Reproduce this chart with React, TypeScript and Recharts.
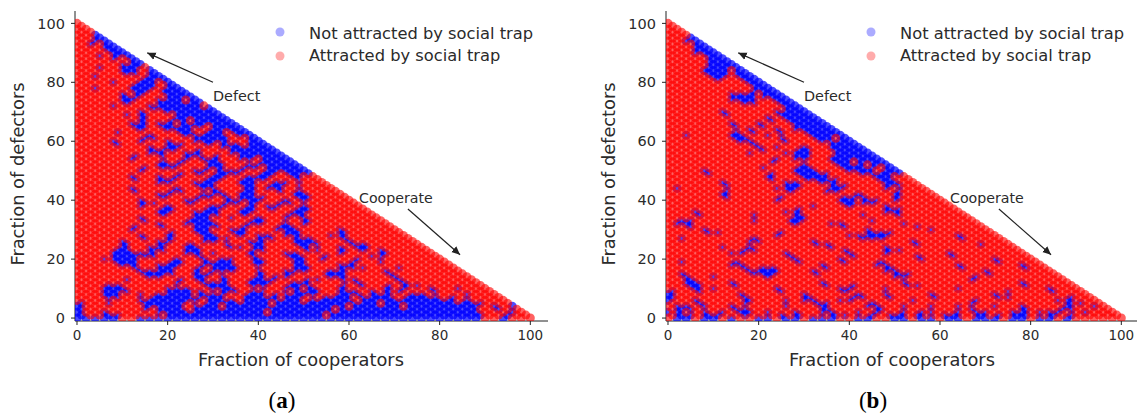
import { ScatterChart, Scatter, XAxis, YAxis, ZAxis, ReferenceLine } from 'recharts'

// One row per level of defectors (100 down to 0). Letters step by 2 cooperators, starting
// at 0 on even rows and 1 on odd rows: b = not attracted, r = attracted. Grouped by five.
const rowsA = [
  'r', 'r', 'rr', 'rr', 'rrb', 'rrb', 'rrbb', 'rbrb', 'rrrbb', 'rrrbb',
  'rrrrb b', 'rrbrb b', 'rrrrb rb', 'rrrrr rb', 'rrrrr bbb', 'rrbrr bbr', 'rrrrr bbrb', 'rrrrr bbrb',
  'rrbrr rrrbb', 'rrrrr rrbbb',
  'rrrrb rrbbr b', 'rrrrr rbbbr b',
  'rrbrr rbbbr bb', 'rrrrr rbbrb bb',
  'rrrrr brbrr bbb', 'rrrrr bbrrr bbb',
  'rrrrr bbrrb bbrb', 'rrrrr brrrb bbbb',
  'rrrrb rrrbb bbbbr', 'rrrrr rrrbb bbbbb',
  'rrrrr rrbrr bbbbb b', 'rrrrr brbrr rbbbb b',
  'rrrrr rrbrr rbbbb bb', 'rrrrr rrbrr bbrbb bb',
  'rrrrr rbbrb brbbb bbb', 'rrrrr rbbrb bbbbr bbb',
  'rrrrr rrbrr bbbrr bbbb', 'rrrrb rrrrr rbbrb brbb',
  'rrrrr rrrbr rrbbb bbrbb', 'rrrrr rrbbr rrrbb bbrrb',
  'rrrrb rrbrr brrbb bbrrb b', 'rrrrb rrrrr bbrrb rbbrb b',
  'rrrrr rrrbr bbrrr rbbbb bb', 'rrrrr rrrbb brrbr rrbbb bb',
  'rrrrr rrrbb rrbbr rrbbb bbb', 'rrrrr rbrrb rrbbr brrbb bbb',
  'rrrrr rbrrr rrbrb brrbb rbbb', 'rrrrr rrrrb rbrrb brrrr bbbb',
  'rrrrr rrrrb bbrrr bbrrb bbbbb', 'rrrrr rrbrb brrrb brrbb rbbbb',
  'rrrrr rrbrr rrrbb rbbbr rbbbb b', 'rrrrr rrrrr rbrbr bbbrr bbrbb b',
  'rrrrr rbrrb rbrrr bbrrb bbrrb rr', 'rrrrr rbrrb brrrb brrbb brrrb rr',
  'rrrrr rrrrb brrbb brrbb rrbbr rrr', 'rrrrr rrrrr rrrbb rrrbb rbbrb rrr',
  'rrrrr rbrrr rbrrb brrrb rbbrr rrrr', 'rrrrr rbrrr bbrrr brrbb rrbrb rrrr',
  'rrrrr rrrrb brrrb bbrbb rrrrb brrrr', 'rrrrr rrrrb rrrbb rbrbb brrrb brrrr',
  'rrrrr rrbrr rrbbr rrbbb brrbr brrrr r', 'rrrrr rrbbr rrbrr rbbrb rrbbr rrrrr r',
  'rrrrr rrbrr brrrr bbrrb rbbrr brrrr rr', 'rrrrr rrrrb brrrb brrbb rbrrb brrrr rr',
  'rrrrr rrrrb brrbb brrbb rrrrb brrrr rrr', 'rrrrr rrrrb rrrbb brrbr rrrbb rrrrr rrr',
  'rrrrr rrbrr rrrbb rrbrr brrbr brrrr rrrr', 'rrrrr rrbrr rrbbb rrrrb brrrr brrrr rrrr',
  'rrrrr rrrrb rrbbb brrrb brrbr brrrr rrrrr', 'rrrrr rbrrb rrrbb brrbr rrbbr rrrrr rrrrr',
  'rrrrr rbrrr rrrbb rrbbr rrbbb rrrrb rrrrr r', 'rrrrr rrrrr brrbb rrbbr rrrbb rrrrb rrrrr r',
  'rrrrr rrbrr brrrb brrbr bbrbb rrrbb rrrrr rr', 'rrrrr rrbrr brrrb bbrrr bbrrb brrrb rrrrr rr',
  'rrrrr brrrb brrrb brrrb brrrb bbrrr brrrr rrr', 'rrrrr brrrb rrbrr rbrrb brrrb bbrrr bbrrr rrr',
  'rrrrr brrbb rrbbr rrbbr brrrr brrrb rbbrr rrrr', 'rrrrb brrbb rrbbr rrrrb brrrr bbrrb rbrbr rrrr',
  'rrrrb bbbbr rrbbr brrrb rrrbb rrrrb rrrrb rrrrr', 'rrrrb bbbbr rrrbr rrrrb rrrbb rrbrr rrbbr rrrrr',
  'rrrbb bbrrr rbrrb rbbrr brrrb brbrr rbrrr rrrrr r', 'rrrrb bbrrr bbrrb bbrrb brrrb rrrrr brrbr rrrrr r',
  'rrrrr bbrrb bbrrb bbbrr brrrb brrrb brrrr rrrrr rr', 'rrrrr rbrrb brrbr bbbrr rrrrb brrrb bbrrr brrrr rr',
  'rrrrr rrbbb brrbr bbbrr brrbb brrbb rrrrb rrrrr rrr', 'rrrrr rrbbb brrbb rrrrr brrbr rrbbb rrrrb rrrrr rrr',
  'rrrrr rrrbb rrrbb rbrrr brbbr rrrbb rrrrr brrrr rrrr', 'rrrrr brrrr rbrbr rbrrb bbrrr bbrrb brrrr brrrr rrrr',
  'rrrrr rrrrr rbrrb bbrrb bbrrb brrrr rbrrr rbrrr rrrrr', 'rrrbb rrrrr rrrrb bbrrb brrbb brrrb rbrrb rbbrr rrrrr',
  'rrrbb brrrr bbbrr bbbrr rrrbb rbrrb rrrrb rbrrb rrbrr r', 'rrrbb brrrr bbbbr rbbrb brrrb bbrrb brbrb brrrb rrrrr r',
  'rrrbb rrbrb bbbrb bbrrb brbbb bbrrb bbrbb rrbbr rrrbr rr', 'rrrbb rrrbb bbbbb brrbb bbrbb rrbbb rbbbb rbbbb rbrrr rr',
  'rrrrr rrbbb bbbbr bbbrb bbbbb rbbbb brbbb bbbbb bbrbr rrr', 'brrbr rrbbb bbrrb bbbbb brbbb bbbbb bbbrb bbbbb bbbbb rrr',
  'brrrr rrrbb bbrbb brbbb bbbbb bbbbb rbbbb brbbb bbbbb rbrb', 'brrrr rrbrb bbrbb bbbbb bbbbb bbbrb bbbbb bbbbb bbbbr rbrr',
  'brrbr rrrrb bbbbb bbbbb brbbb bbbbb bbbbb bbbbb bbbbb rrrbr', 'brrbb rrrrr bbbbb bbbbb bbbbb bbrbb bbbbb bbbbb bbbbb rrbrr',
  'bbbbb rrbbb bbbbb bbbbb bbbbb bbbbb bbbbb bbbbb bbbbb rrbrr r',
]

const rowsB = [
  'r', 'r', 'rr', 'rr', 'rrr', 'rrb', 'rrbb', 'rrrb', 'rrrbb', 'rrrbb',
  'rrrbb b', 'rrrrb b', 'rrrrr bb', 'rrrrb bb', 'rrrrr bbb', 'rrrrb bbb', 'rrrrb bbrb', 'rrrrb bbbb',
  'rrrrr bbrbb', 'rrrrr brrbb',
  'rrrrr rrrrb b', 'rrrrr rrrrb b',
  'rrrrr rrrrr bb', 'rrrrr rrrrb bb',
  'rrrrr rrbbb rbb', 'rrrrr rrbbb bbb',
  'rrrrr rrbbb rrbb', 'rrrrr rrrbb rrbb',
  'rrrrr rrrrr rrrbb', 'rrrrr rrrrr rrrbb',
  'rrrrr rbrrr rrbbb b', 'rrrrr rbrrr rrbbb b',
  'rrrrr rrrrr rbrbb bb', 'rrrrr rrrrr rbrbb bb',
  'rrrrr rrbrr brrrb bbb', 'rrrrr rrbrr brrrb bbb',
  'rrrrr rrrrb rrbrb bbbb', 'rrrrr rrbrb rrbrr bbbb',
  'rrbrr rrbbr rbrrr rbbbb', 'rrrrr rrbbr rrbrr rbbrb',
  'rrrrr rrrbb rrrbr rrbbb b', 'rrrrr rrrrb rrrrr rrrbb b',
  'rrrrr rrrrr brbrr brrbb bb', 'rrrrr rrrrr brrrb brrbb bb',
  'rrrrr rrrrb rrrbb brrrb bbb', 'rrrrr rrrrr rrrrb brrbb bbb',
  'rrrrr rrrrr rrbrb brrbb bbbb', 'rrrrr rrrrr rbrrr rrrbb rbbb',
  'rrrrr rrrrr rrrrr brrrb bbrbb', 'rrrrr rrrrr brrrb brrrb bbbrb',
  'rrrrb rrrrr rrrrb bbrrr bbbrb b', 'rrrrb rrrrr rbrrb bbbrr rbbbb b',
  'rrrrr rrrrr rbrrr bbbrr rrrbb rr', 'rrrrr rrrrr rbrrr bbbbr rrrbb rr',
  'rrrrr rbrrr rrrbb rrbbr rrrrb brr', 'rrrrr rbrrr rrrbb rrrbb rrrrb brr',
  'rbrrr rrrrr rrbbb rrrbb rrrrb rrrr', 'rrrrr rbrrr rrrbr rrbbr rrrrr brrr',
  'rrrrr rbrrr rrrrr rrrrr rbrrr brrrr', 'rrrrr rbrrr rrbrr rrrrb bbrrr brrrr',
  'rrrrr rrrrr rrbrr rrrrb brbbr brrrr r', 'rrrrr rrrrr rrrrr rrrrb bbbrr rrrrr r',
  'rrrrr rrrrr rrrrr rbrrr brrrb rrrrr rr', 'rrrrr rrrrr rrrrb rrrrr rrrrb brrrr rr',
  'rrrbr rrrrr rrrbb rrrrr rrrrb brrrr rrr', 'rrrbr rrrrb rrrrb rrrrr rbrrr brrrr rrr',
  'rrrrr rrrrr rrrrb brrrr rrrrr rrrrr rrrr', 'rbbrr rrrrb rrrbb rrrrr rrbrr rrrrr rrrr',
  'rbbrr rrrrr rrrrb rrrbb rrrrr rbrrr rrrrr', 'rrbrr rrrrr rrrrr rrrrb rrrrr rrbrr rrrrr',
  'rrrrb rrrrr rrrrr rrrrr rrbrr rrrrb rrrrr r', 'rrrrb brrrr rrbrr rrrrr rrbbb rrrrr rrrrr r',
  'rrrrr rrrrr rrbrr rrrrr bbbbb rrrrr rrbrr rr', 'rbrrr rrrrb rrrrr rrrrr rbbbr rrrrr rrbrr rr',
  'rrrrr rrrrb brrrr rbrrr rrrrr rrbrr rrrrr rrr', 'rrrrr rrrrr rrrrr rbbrr rrrrr rrbrr rrrrb rrr',
  'rrrrr rbrrb rrrrr rrrbr rrrrb rrrrr rrrrr rrrr', 'rrrrr rrrbb rrrrr rrrrb rrrrb brrrr rrrrr rrrr',
  'rrrrr rrbbr rrrbr rrrrr brrrb rrrrr rbrrr rrrrr', 'rrrrr rrrrr rrrbr rrrrr brrrr rrbrr rbrrr rrrrr',
  'rrrrr rrrrr rrrrb rrrrb rrrrr rrrbr rrrrr rbrrr r', 'rbrrr rrbrr rrrrb rrrrb rrrbr rrrrr rrrrr rbrrr r',
  'rrrrr rrbbr rrrrr rrbrr rrrbb rrrrr rrbrr rrrrb rr', 'rrrrr rrrbr bbrrr rrbrr rrrrb rrrrr rrbrr rrrrb rr',
  'rrrrr rrrrb bbbrr rbrrr rrrrb brrrr rrrrr brrrr rrr', 'rbrrr rrrrb bbrrr rbrrr rrrrr bbrrr rrrrr brrrr rrr',
  'rrbrr brrrr rbrrr rrrrr rrrrr bbrrr rrrrb rrrrr rrrr', 'rrbrr rrrrr rrrrr rrrrr rrrrr rrrrr rrrbr rrrrr rrrr',
  'rrbbr rrbrr rrrrr rrbrr rrrrr rbrrr rrrrr rrrrb rrrrr', 'rrbbr rrbrr rrrrr rrbrr brrrr rbbrr rrrrr rrrrb rrrrr',
  'rrrbr brrrr rrbrr rrrrb brrrb rrrrr rrbrr rrrrr rrbrr r', 'brrbr rrrrr rrbrr rrrrb rrrrr rrrrr rrrrr rrbrr rrbrr r',
  'brrrr rrrbr rrrrr brrrr rbrrb rrrrb rrrrr rbrrr rrrrr rr', 'brrrr rrrbr rrrrr brrrr bbrrb rrrrb rrrrr rbbrr rrrrb rr',
  'brrbr rrrrb rrrbr bbrrb brrrr rrbrr rrrrb rrrrr rrrbb rrr', 'rrrbr rrrbr rrrrr rbbrr rrbrr rrrrr rrrbr rrrrr rrrrb brr',
  'rbbrb rrbrr rrrbr rrbrr rrbbr rbrrb rrbrr rbrrb rrrrb rrbr', 'rbbrr rrbbr rrrrr rrbrr rrrbr rrrrr rrrbr rrrrb rrrbb rrrr',
  'bbrrb rbrbb rbrrb rrbbr rbrbr rbrbb rrbrb brrbb rbbbr rbrrr', 'rbbrb brrbr rrbrb rrrbb rrbrb brbrr bbrrb rbrbb rrbrb rrrrr',
  'rbbrb brbrr bbrbb rbbbr rbbrr bbrbb rbbrb bbrbb rbbrb rrrrr r',
]

const xTicks = [0, 20, 40, 60, 80, 100]
const yTicks = [0, 20, 40, 60, 80, 100]
const defectArrow = [{ x: 30, y: 80 }, { x: 15.5, y: 90 }]
const cooperateArrow = [{ x: 73, y: 37 }, { x: 84.5, y: 21.5 }]

const SERIF = '"Liberation Serif", serif'
const SANS = '"DejaVu Sans", sans-serif'
const TEXT = '#2b2b2b'

function toPoints(rows: string[], mark: string) {
  const out: { c: number; d: number }[] = []
  rows.forEach((row, i) => {
    const d = 100 - i
    row.replace(/ /g, '').split('').forEach((ch, j) => {
      const c = j * 2 + (d % 2)
      if (ch === mark && c + d <= 100) out.push({ c, d })
    })
  })
  return out
}

function Panel({ rows, caption, left }: { rows: string[]; caption: string; left: number }) {
  return (
    <div style={{ position: 'absolute', left, top: 0 }}>
      <ScatterChart
        width={560}
        height={414}
        margin={{ top: 11, right: 12, bottom: 63, left: 35 }}
      >
        <defs>
          <marker id={`head-${caption}`} markerWidth="8" markerHeight="8" refX="7" refY="4" orient="auto">
            <path d="M0,0.8 L7,4 L0,7.2 z" fill="#222" />
          </marker>
        </defs>
        <XAxis
          type="number"
          dataKey="c"
          domain={[-0.44, 103.9]}
          allowDataOverflow
          ticks={xTicks}
          height={30}
          tickSize={4}
          tickMargin={5}
          stroke="#222"
          tick={{ fontSize: 13.5, fontFamily: SANS, fill: TEXT }}
        />
        <YAxis
          type="number"
          dataKey="d"
          domain={[-1, 104.2]}
          allowDataOverflow
          ticks={yTicks}
          width={40}
          tickSize={4}
          tickMargin={6}
          stroke="#222"
          tick={{ fontSize: 14.5, fontFamily: SANS, fill: TEXT }}
        />
        <ZAxis range={[72, 72]} />
        <Scatter data={toPoints(rows, 'b')} fill="#0000ff" fillOpacity={0.7} isAnimationActive={false} />
        <Scatter data={toPoints(rows, 'r')} fill="#ff0000" fillOpacity={0.62} isAnimationActive={false} />
        <ReferenceLine segment={defectArrow} stroke="#222" strokeWidth={1.2} markerEnd={`url(#head-${caption})`} />
        <ReferenceLine segment={cooperateArrow} stroke="#222" strokeWidth={1.2} markerEnd={`url(#head-${caption})`} />

        <text x={213} y={100.5} fontSize={14.4} fontFamily={SANS} fill={TEXT}>Defect</text>
        <text x={359} y={203} fontSize={14.2} fontFamily={SANS} fill={TEXT}>Cooperate</text>

        <circle cx={280} cy={32} r={4.5} fill="#0000ff" fillOpacity={0.33} />
        <circle cx={280} cy={56} r={4.5} fill="#ff0000" fillOpacity={0.33} />
        <text x={309} y={39} fontSize={16.3} fontFamily={SANS} fill={TEXT}>Not attracted by social trap</text>
        <text x={309} y={61} fontSize={16.3} fontFamily={SANS} fill={TEXT}>Attracted by social trap</text>

        <text x={301} y={366} textAnchor="middle" fontSize={17.8} fontFamily={SANS} fill={TEXT}>Fraction of cooperators</text>
        <text x={24} y={174} textAnchor="middle" fontSize={17.8} fontFamily={SANS} fill={TEXT} transform="rotate(-90 24 174)">Fraction of defectors</text>

        <text x={282} y={408} textAnchor="middle" fontSize={23} fontFamily={SERIF} fill="#000">
          (<tspan fontWeight="bold">{caption}</tspan>)
        </text>
      </ScatterChart>
    </div>
  )
}

export default function App() {
  return (
    <div style={{ position: 'absolute', left: 0, top: 0, width: 1137, height: 414, background: '#fff', overflow: 'hidden' }}>
      <Panel rows={rowsA} caption="a" left={0} />
      <Panel rows={rowsB} caption="b" left={591} />
    </div>
  )
}
